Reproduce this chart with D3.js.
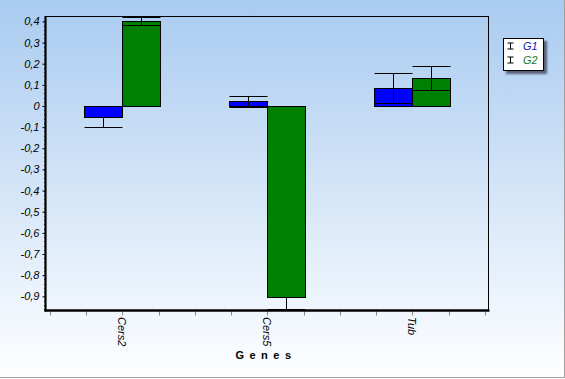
<!DOCTYPE html>
<html><head><meta charset="utf-8">
<script src="https://cdn.jsdelivr.net/npm/d3@7"></script>
<style>html,body{margin:0;padding:0;overflow:hidden;background:#fff}</style>
</head><body>
<svg id="c" width="565" height="379"></svg>
<script>
const categories = ["Cers2", "Cers5", "Tub"];
const seriesNames = ["G1", "G2"];
const g1Values = [-0.05, 0.022, 0.084];
const g1Errors = [0.05, 0.027, 0.071];
const g2Values = [0.403, -0.904, 0.131];
const g2Errors = [0.019, 0.057, 0.057];
const yTicks = [0.4, 0.3, 0.2, 0.1, 0, -0.1, -0.2, -0.3, -0.4, -0.5, -0.6, -0.7, -0.8, -0.9];
const xTitle = "Genes";

const colors = ["#0000ff", "#008000"];
const legendText = ["#1a1ab8", "#1a7a1a"];

const svg = d3.select("#c");
const W = 565, H = 379;
const defs = svg.append("defs");
const grad = defs.append("linearGradient").attr("id", "bg").attr("x1", 0).attr("y1", 0).attr("x2", 0).attr("y2", 1);
grad.append("stop").attr("offset", "0%").attr("stop-color", "#a9cbf0");
grad.append("stop").attr("offset", "100%").attr("stop-color", "#ffffff");
const blur = defs.append("filter").attr("id", "sh").attr("x", "-20%").attr("y", "-20%").attr("width", "150%").attr("height", "150%");
blur.append("feGaussianBlur").attr("stdDeviation", 1.2);

svg.append("rect").attr("x", 0).attr("y", 0).attr("width", W).attr("height", H).attr("fill", "url(#bg)");
svg.append("line").attr("x1", 0).attr("x2", W).attr("y1", 377.5).attr("y2", 377.5).attr("stroke", "#a0a0a0");
svg.append("line").attr("x1", 564.5).attr("x2", 564.5).attr("y1", 0).attr("y2", 378).attr("stroke", "#a0a0a0");

const L = 45.5, R = 488.5, T = 16, B = 310.5;
const y = d3.scaleLinear().domain([-0.967, 0.4255]).range([B, T]);
const x = d3.scaleBand().domain(categories).range([49.8, 484.8]);
const bw = 38;

// border top/right
svg.append("line").attr("x1", L).attr("x2", R).attr("y1", T + 0.5).attr("y2", T + 0.5).attr("stroke", "#000");
svg.append("line").attr("x1", R).attr("x2", R).attr("y1", T).attr("y2", B).attr("stroke", "#000");

const rows = [];
categories.forEach((c, i) => {
  rows.push({c, s: 0, v: g1Values[i], e: g1Errors[i]});
  rows.push({c, s: 1, v: g2Values[i], e: g2Errors[i]});
});
const cx = d => x(d.c) + x.bandwidth() / 2 + (d.s === 0 ? -bw : 0);

function drawBars(data) {
  svg.append("g").selectAll("rect").data(data).join("rect")
    .attr("x", d => Math.round(cx(d)) + 0.5)
    .attr("width", bw)
    .attr("y", d => Math.round(y(Math.max(0, d.v))) + 0.5)
    .attr("height", d => Math.abs(Math.round(y(d.v)) - Math.round(y(0))))
    .attr("fill", d => colors[d.s]).attr("stroke", "#000").attr("stroke-width", 1);
}
function drawErr(data) {
  const g = svg.append("g").attr("stroke", "#000").attr("stroke-width", 1);
  data.forEach(d => {
    const x0 = Math.round(cx(d)) + 0.5, xm = x0 + bw / 2, x1 = x0 + bw;
    const yh = Math.round(y(d.v + d.e)) + 0.5, yl = Math.round(y(d.v - d.e)) + 0.5;
    g.append("line").attr("x1", xm).attr("x2", xm).attr("y1", yh).attr("y2", yl);
    g.append("line").attr("x1", x0).attr("x2", x1).attr("y1", yh).attr("y2", yh);
    g.append("line").attr("x1", x0).attr("x2", x1).attr("y1", yl).attr("y2", yl);
  });
}
drawBars(rows.filter(d => d.v >= 0));
drawErr(rows);
drawBars(rows.filter(d => d.v < 0));

// y axis
const yAxis = d3.axisLeft(y).tickValues(yTicks).tickSize(3).tickPadding(3)
  .tickFormat(d => d3.format(".1f")(d).replace(".", ",").replace("−", "-").replace(/^0,0$/, "0").replace(/^-0,0$/, "0"));
const ya = svg.append("g").attr("transform", `translate(${L},0)`).call(yAxis);
ya.select(".domain").remove();
ya.selectAll("line").attr("stroke", "#000");
ya.selectAll("text").attr("font-family", "Liberation Sans, Arial, sans-serif").attr("font-size", 11)
  .attr("font-style", "italic").attr("fill", "#000");
const minor = d3.range(-0.96, 0.42, 0.02);
svg.append("g").selectAll("line").data(minor).join("line")
  .attr("x1", L - 1.5).attr("x2", L).attr("y1", d => Math.round(y(d)) + 0.5).attr("y2", d => Math.round(y(d)) + 0.5)
  .attr("stroke", "#333");
svg.append("line").attr("x1", L).attr("x2", L).attr("y1", T).attr("y2", B + 1).attr("stroke", "#000").attr("stroke-width", 2.2);

// x axis
const xt = d3.range(0, 13).map(k => 49.8 + k * x.bandwidth() / 4);
svg.append("g").selectAll("line").data(xt).join("line")
  .attr("x1", d => Math.round(d) + 0.5).attr("x2", d => Math.round(d) + 0.5)
  .attr("y1", B).attr("y2", B + 5).attr("stroke", "#888");
svg.append("line").attr("x1", L - 1).attr("x2", R + 1).attr("y1", B).attr("y2", B).attr("stroke", "#000").attr("stroke-width", 2.6);

svg.append("g").selectAll("text").data(categories).join("text")
  .attr("transform", d => `translate(${x(d) + x.bandwidth() / 2},317) rotate(90)`)
  .attr("dy", "0.35em")
  .attr("font-family", "Liberation Sans, Arial, sans-serif").attr("font-size", 11).attr("font-style", "italic")
  .attr("fill", "#000").text(d => d);

svg.append("text").attr("x", 266).attr("y", 359).attr("text-anchor", "middle")
  .attr("font-family", "Liberation Sans, Arial, sans-serif").attr("font-size", 11).attr("font-weight", "bold")
  .attr("letter-spacing", 5.5).attr("fill", "#000").text(xTitle);

// legend
const lg = svg.append("g");
lg.append("rect").attr("x", 506).attr("y", 41).attr("width", 41).attr("height", 33).attr("fill", "#334").attr("opacity", 0.7).attr("filter", "url(#sh)");
lg.append("rect").attr("x", 503.5).attr("y", 38.5).attr("width", 40).attr("height", 32).attr("fill", "#fff").attr("stroke", "#000");
seriesNames.forEach((s, i) => {
  const cy = 46 + i * 14;
  const ix = 510.5;
  lg.append("line").attr("x1", ix).attr("x2", ix).attr("y1", cy - 3).attr("y2", cy + 3).attr("stroke", "#000");
  lg.append("line").attr("x1", ix - 3).attr("x2", ix + 3).attr("y1", cy - 3).attr("y2", cy - 3).attr("stroke", "#000");
  lg.append("line").attr("x1", ix - 3).attr("x2", ix + 3).attr("y1", cy + 3).attr("y2", cy + 3).attr("stroke", "#000");
  lg.append("text").attr("x", 523).attr("y", cy + 4).attr("font-family", "Liberation Sans, Arial, sans-serif")
    .attr("font-size", 11).attr("font-style", "italic").attr("fill", legendText[i]).text(s);
});
</script>
</body></html>
